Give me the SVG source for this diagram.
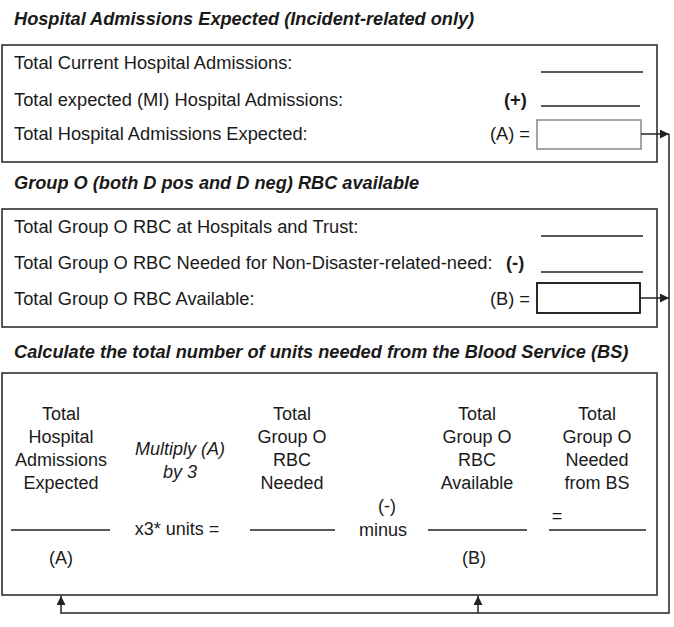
<svg xmlns="http://www.w3.org/2000/svg" width="674" height="627" viewBox="0 0 674 627">
<style>
text{font-family:"Liberation Sans",Arial,sans-serif;font-size:18px;fill:#1a1a1a}
.r{font-size:18.3px}
.t{font-weight:bold;font-style:italic;font-size:18.2px}
.c{text-anchor:middle}
.e{text-anchor:end}
.i{font-style:italic}
.b{font-weight:bold}
.box{fill:#fff;stroke:#222;stroke-width:1.5}
.ln{stroke:#222;stroke-width:1.3;fill:none}
.cn{stroke:#222;stroke-width:1.5;fill:none}
</style>
<defs>
<marker id="ah" viewBox="0 0 10 10" refX="10" refY="5" markerWidth="9" markerHeight="9" markerUnits="userSpaceOnUse" orient="auto"><path d="M0,0 L10,5 L0,10 z" fill="#222"/></marker>
</defs>
<rect width="674" height="627" fill="#fff"/>
<g id="title1"><text class="t" x="14" y="25">Hospital Admissions Expected (Incident-related only)</text></g>
<g id="box1">
<rect class="box" x="2" y="45" width="655" height="117"/>
<text class="r" x="14" y="69">Total Current Hospital Admissions:</text>
<line class="ln" x1="541" y1="72" x2="643" y2="72"/>
<text class="r" x="14" y="106">Total expected (MI) Hospital Admissions:</text>
<text class="b r" x="504" y="106">(+)</text>
<line class="ln" x1="541" y1="106" x2="640" y2="106"/>
<text class="r" x="14" y="140">Total Hospital Admissions Expected:</text>
<text class="r e" x="530" y="140">(A) =</text>
<rect x="537" y="120" width="104" height="29" fill="#fff" stroke="#888" stroke-width="1.5"/>
</g>
<g id="title2"><text class="t" x="14" y="189">Group O (both D pos and D neg) RBC available</text></g>
<g id="box2">
<rect class="box" x="2" y="209" width="655" height="118"/>
<text class="r" x="14" y="233">Total Group O RBC at Hospitals and Trust:</text>
<line class="ln" x1="541" y1="236" x2="643" y2="236"/>
<text class="r" x="14" y="269">Total Group O RBC Needed for Non-Disaster-related-need:</text>
<text class="b r" x="506" y="269">(-)</text>
<line class="ln" x1="541" y1="272" x2="643" y2="272"/>
<text class="r" x="14" y="305">Total Group O RBC Available:</text>
<text class="r e" x="530" y="305">(B) =</text>
<rect x="537" y="283" width="103" height="30" fill="#fff" stroke="#111" stroke-width="1.8"/>
</g>
<g id="title3"><text class="t" x="14" y="358">Calculate the total number of units needed from the Blood Service (BS)</text></g>
<g id="box3">
<rect class="box" x="2" y="373" width="655" height="222"/>
<text class="c" x="61" y="420">Total</text>
<text class="c" x="61" y="443">Hospital</text>
<text class="c" x="61" y="466">Admissions</text>
<text class="c" x="61" y="489">Expected</text>
<text class="c i" x="180" y="455">Multiply (A)</text>
<text class="c i" x="180" y="478">by 3</text>
<text class="c" x="292" y="420">Total</text>
<text class="c" x="292" y="443">Group O</text>
<text class="c" x="292" y="466">RBC</text>
<text class="c" x="292" y="489">Needed</text>
<text class="c" x="477" y="420">Total</text>
<text class="c" x="477" y="443">Group O</text>
<text class="c" x="477" y="466">RBC</text>
<text class="c" x="477" y="489">Available</text>
<text class="c" x="597" y="420">Total</text>
<text class="c" x="597" y="443">Group O</text>
<text class="c" x="597" y="466">Needed</text>
<text class="c" x="597" y="489">from BS</text>
<line class="ln" x1="11" y1="530" x2="110" y2="530"/>
<text class="c" x="177" y="535">x3* units =</text>
<line class="ln" x1="250" y1="530" x2="335" y2="530"/>
<text class="c" x="387" y="512">(-)</text>
<text class="c" x="383" y="536">minus</text>
<line class="ln" x1="428" y1="530" x2="527" y2="530"/>
<text class="c" x="557" y="522">=</text>
<line class="ln" x1="549" y1="530" x2="646" y2="530"/>
<text class="c" x="61" y="564">(A)</text>
<text class="c" x="474" y="564">(B)</text>
</g>
<g id="connectors">
<line class="cn" x1="641" y1="134" x2="669" y2="134" marker-end="url(#ah)"/>
<line class="cn" x1="640" y1="298" x2="669" y2="298" marker-end="url(#ah)"/>
<polyline class="cn" points="669,134 669,613 61,613 61,596" marker-end="url(#ah)"/>
<line class="cn" x1="478" y1="613" x2="478" y2="596" marker-end="url(#ah)"/>
</g>
</svg>
